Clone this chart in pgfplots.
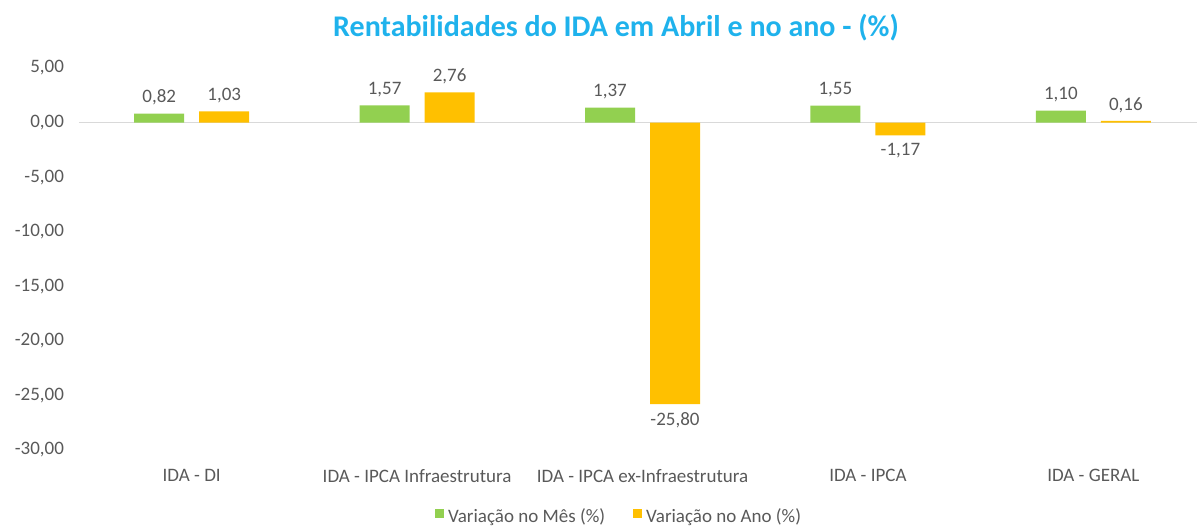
\documentclass[border=0pt]{standalone}
\usepackage{pgfplots}
\pgfplotsset{compat=1.18}
\usepackage{fontspec}
\setmainfont{Carlito}
\definecolor{cgreen}{HTML}{92D050}
\definecolor{corange}{HTML}{FFC000}
\definecolor{ctitle}{HTML}{1FB2EC}
\definecolor{ctext}{HTML}{595959}
\definecolor{cline}{HTML}{D9D9D9}
\begin{document}
\begin{tikzpicture}
\path[use as bounding box] (0,0) rectangle (598.5pt,263.5pt);
\begin{axis}[
  at={(39.5pt,38.5pt)}, anchor=south west,
  scale only axis, width=559pt, height=191pt,
  ybar=7.5pt, bar width=25pt,
  xmin=-0.5, xmax=4.46,
  ymin=-30, ymax=5,
  ytick={-30,-25,...,5},
  xtick={0,1,2,3,4},
  xticklabels={IDA - DI, IDA - IPCA Infraestrutura, IDA - IPCA ex-Infraestrutura, IDA - IPCA, IDA - GERAL},
  axis line style={draw=none},
  major tick length=0pt,
  tick style={draw=none},
  /pgf/number format/.cd, assume math mode=true, fixed, fixed zerofill, precision=2, use comma, 1000 sep={},
  /pgfplots/.cd,
  yticklabel style={font=\fontsize{9.5pt}{11pt}\selectfont, text=ctext, xshift=-4pt},
  xticklabel style={font=\fontsize{9.5pt}{11pt}\selectfont, text=ctext, yshift=-6pt},
  extra y ticks={0}, extra y tick labels={},
  extra y tick style={grid=major, major grid style={cline, line width=0.8pt}},
  nodes near coords,
  every node near coord/.append style={font=\fontsize{9.5pt}{11pt}\selectfont, text=ctext, inner sep=4pt},
  legend columns=2,
  legend style={at={(0.484,-0.175)}, anchor=center, draw=none, fill=none,
    font=\fontsize{9.5pt}{11pt}\selectfont, text=ctext,
    /tikz/every even column/.append style={column sep=12pt}},
  legend image code/.code={\fill[#1] (0pt,-0.5pt) rectangle (4.5pt,4pt);},
]
\addplot[fill=cgreen, draw=none] coordinates {(0,0.82) (1,1.57) (2,1.37) (3,1.55) (4,1.10)};
\addplot[fill=corange, draw=none] coordinates {(0,1.03) (1,2.76) (2,-25.80) (3,-1.17) (4,0.16)};
\legend{Variação no Mês (\%), Variação no Ano (\%)}
\end{axis}
\node[font=\bfseries\fontsize{15pt}{18pt}\selectfont, text=ctitle] at (308pt,249.5pt) {Rentabilidades do IDA em Abril e no ano - (\%)};
\end{tikzpicture}
\end{document}
